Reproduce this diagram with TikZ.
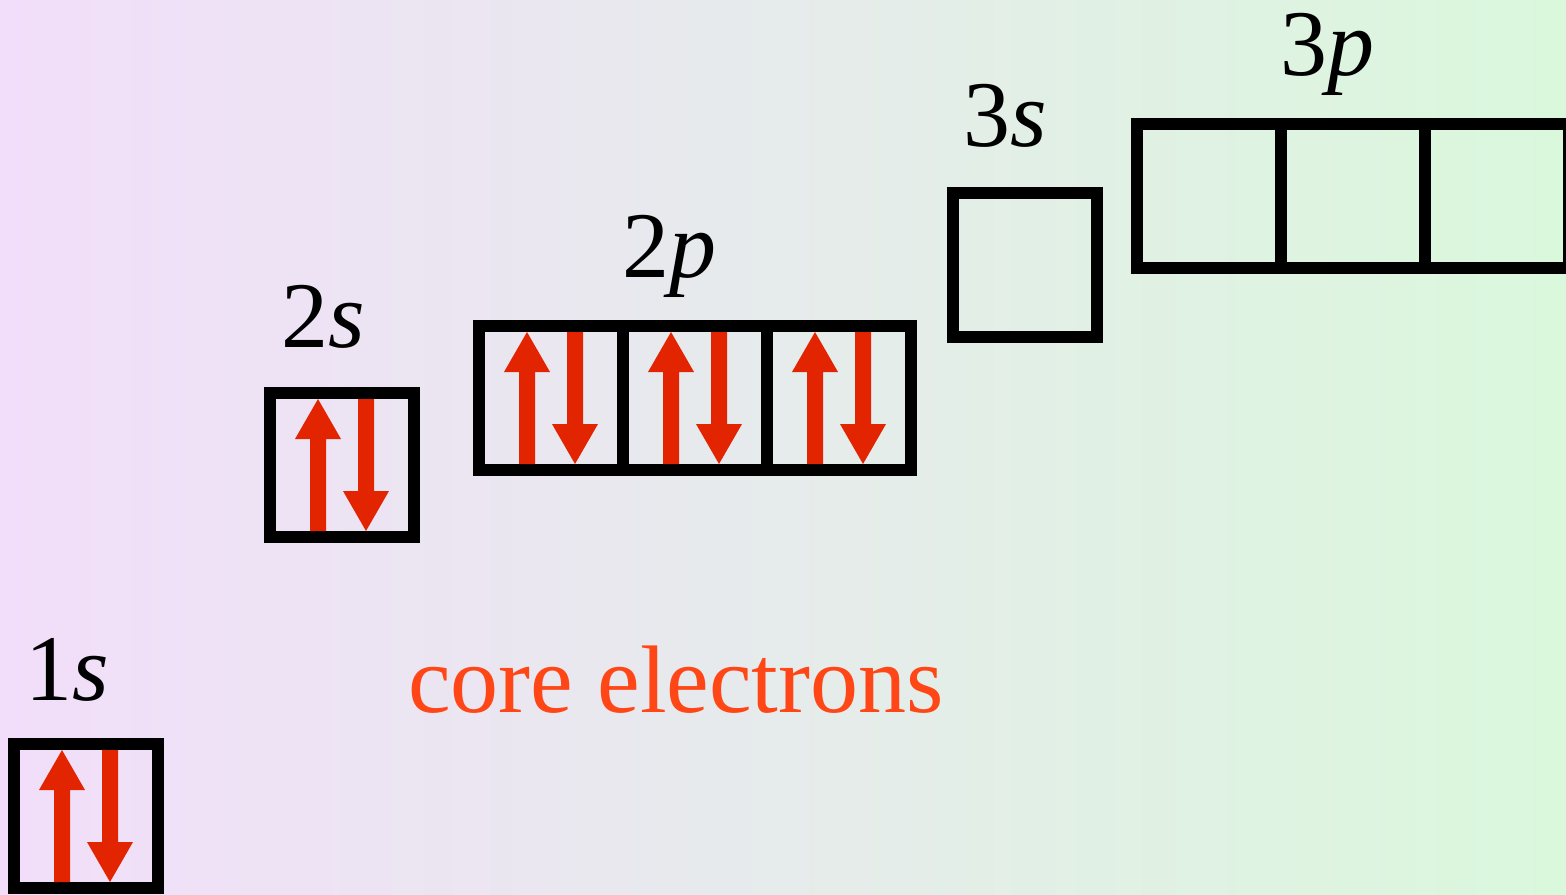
\documentclass[tikz,border=0pt]{standalone}
\usepackage{fontspec}
\setmainfont{Liberation Serif}
\definecolor{bgleft}{RGB}{242,222,250}
\definecolor{bgright}{RGB}{218,248,220}
\definecolor{spinred}{RGB}{227,36,0}
\definecolor{coretext}{RGB}{255,70,22}
\tikzset{
  orb/.style={draw=black, line width=6pt, minimum size=72pt, inner sep=0pt, outer sep=0pt, shape=rectangle},
  lbl/.style={anchor=base, inner sep=0pt, font=\fontsize{47}{50}\selectfont},
  upspin/.pic={\fill[spinred] (-8,0) -- (-8,-92) -- (-23,-92) -- (0,-132) -- (23,-92) -- (8,-92) -- (8,0) -- cycle;},
  downspin/.pic={\fill[spinred] (-8,0) -- (-8,92) -- (-23,92) -- (0,132) -- (23,92) -- (8,92) -- (8,0) -- cycle;},
  pair/.pic={\pic at (-24,66) {upspin}; \pic at (24,-66) {downspin};}
}
\begin{document}
\begin{tikzpicture}[x=0.5pt, y=-0.5pt]
\useasboundingbox (0,0) rectangle (1566,894);
\fill[left color=bgleft, right color=bgright] (0,0) rectangle (1566,894);
% orbitals
\node[orb] (s1) at (86,816) {};
\node[orb] (s2) at (342,465) {};
\node[orb] (p2a) at (551,398) {};
\node[orb] (p2b) at (695,398) {};
\node[orb] (p2c) at (839,398) {};
\node[orb] (s3) at (1025,265) {};
\node[orb] (p3a) at (1209,196) {};
\node[orb] (p3b) at (1353,196) {};
\node[orb] (p3c) at (1497,196) {};
% electrons
\pic at (s1.center) {pair};
\pic at (s2.center) {pair};
\pic at (p2a.center) {pair};
\pic at (p2b.center) {pair};
\pic at (p2c.center) {pair};
% labels
\node[lbl] (l1s) at (67,700) {1\textit{s}};
\node[lbl] (l2s) at (323,347) {2\textit{s}};
\node[lbl] (l2p) at (669,277) {2\textit{p}};
\node[lbl] (l3s) at (1005,146) {3\textit{s}};
\node[lbl] (l3p) at (1327,75) {3\textit{p}};
\node[anchor=base, inner sep=0pt, text=coretext, font=\fontsize{48}{52}\selectfont] (core) at (676,712) {core electrons};
\end{tikzpicture}
\end{document}
